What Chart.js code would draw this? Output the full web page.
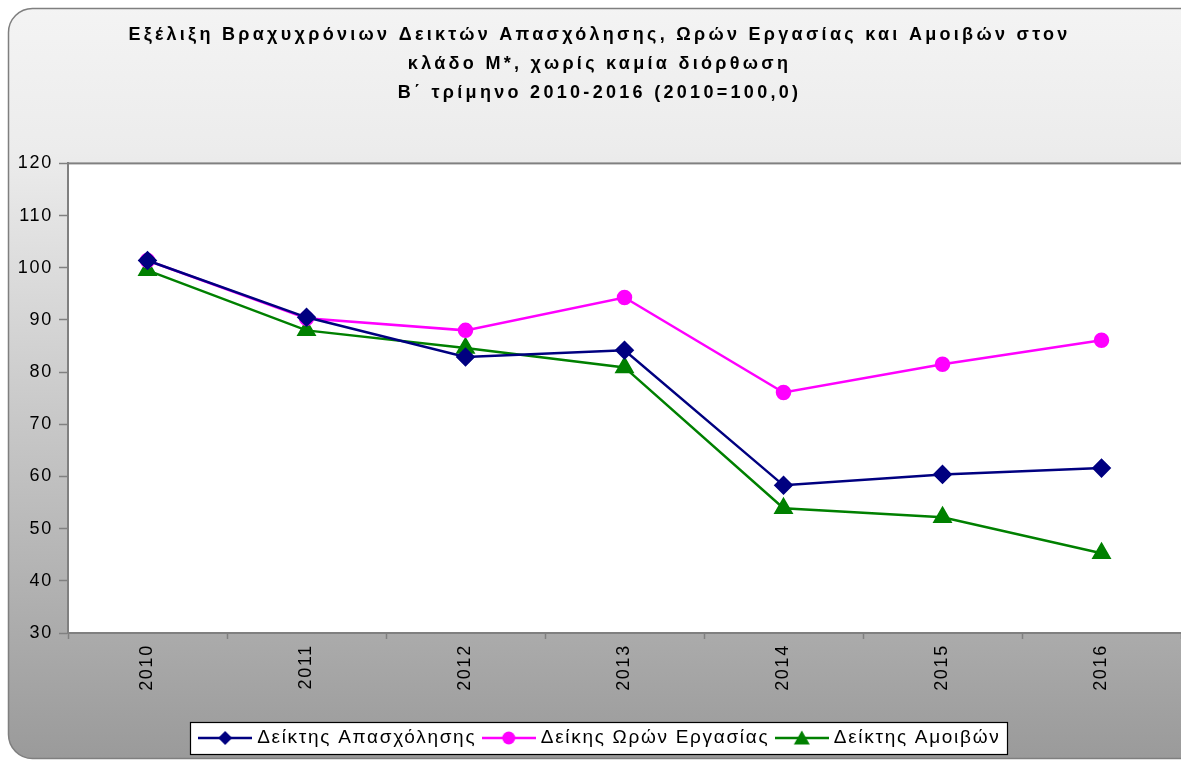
<!DOCTYPE html>
<html>
<head>
<meta charset="utf-8">
<script src="https://cdn.jsdelivr.net/npm/chart.js@4.4.0/dist/chart.umd.min.js"></script>
<style>
  html, body { margin: 0; padding: 0; background: #ffffff; }
</style>
</head>
<body>
<canvas id="indexChart" width="1181" height="760"></canvas>
<script>
// values (2010 = 100,0)
var years = ['2010', '2011', '2012', '2013', '2014', '2015', '2016'];
var employmentIndex = [101.4, 90.5, 82.9, 84.2, 58.3, 60.4, 61.6];
var hoursIndex = [101.4, 90.3, 88.0, 94.3, 76.1, 81.5, 86.1];
var wagesIndex = [99.5, 88.0, 84.6, 80.9, 53.9, 52.2, 45.3];
var seriesNames = ['Δείκτης Απασχόλησης', 'Δείκης Ωρών Εργασίας', 'Δείκτης Αμοιβών'];
var titleLines = [
  'Εξέλιξη Βραχυχρόνιων Δεικτών Απασχόλησης, Ωρών Εργασίας και Αμοιβών στον',
  'κλάδο Μ*, χωρίς καμία διόρθωση',
  'Β΄ τρίμηνο 2010-2016 (2010=100,0)'
];
var yMin = 30, yMax = 120, yStep = 10;

var FONT = "'Liberation Sans', Arial, sans-serif";
var TEXT_SPACING = '1.7px';
var TITLE_SPACING = '3.3px';
var LEGEND_SHIFT = 11;

// small canvas used as legend sample: line with marker in the middle
function legendIcon(color, style) {
  var c = document.createElement('canvas');
  c.width = 54; c.height = 18;
  var g = c.getContext('2d');
  g.strokeStyle = color;
  g.fillStyle = color;
  g.lineWidth = 2.5;
  g.beginPath();
  g.moveTo(0, 9); g.lineTo(54, 9);
  g.stroke();
  g.beginPath();
  if (style === 'diamond') {
    g.moveTo(27, 2); g.lineTo(34, 9); g.lineTo(27, 16); g.lineTo(20, 9);
  } else if (style === 'circle') {
    g.arc(27, 9, 6.5, 0, Math.PI * 2);
  } else {
    g.moveTo(27, 1.5); g.lineTo(35, 15.5); g.lineTo(19, 15.5);
  }
  g.closePath();
  g.fill();
  return c;
}
var legendIcons = [
  legendIcon('#000080', 'diamond'),
  legendIcon('#ff00ff', 'circle'),
  legendIcon('#008000', 'triangle')
];

function shiftDraw(chart, box, dx, spacing) {
  var orig = box.draw;
  box.draw = function() {
    var ctx = chart.ctx;
    ctx.save();
    if (spacing) ctx.letterSpacing = spacing;
    ctx.translate(dx, 0);
    orig.apply(this, arguments);
    ctx.restore();
  };
}

var backgroundPlugin = {
  id: 'excelBackground',
  afterInit: function(chart) {
    // title: wider letter spacing, slightly to the right; legend a bit to the right
    shiftDraw(chart, chart.titleBlock, 9, TITLE_SPACING);
    shiftDraw(chart, chart.legend, LEGEND_SHIFT, null);
  },
  beforeUpdate: function(chart) {
    chart.ctx.letterSpacing = TEXT_SPACING;
  },
  beforeDraw: function(chart) {
    var ctx = chart.ctx;
    var w = chart.width, h = chart.height;
    var a = chart.chartArea;
    ctx.save();
    ctx.letterSpacing = '0px';
    ctx.fillStyle = '#ffffff';
    ctx.fillRect(0, 0, w, h);

    // rounded frame with grey gradient
    var r = 24, x0 = 8.5, y0 = 8.5, x1 = w + 20, y1 = h - 1.5;
    ctx.beginPath();
    ctx.moveTo(x0 + r, y0);
    ctx.lineTo(x1, y0);
    ctx.lineTo(x1, y1);
    ctx.lineTo(x0 + r, y1);
    ctx.arcTo(x0, y1, x0, y1 - r, r);
    ctx.lineTo(x0, y0 + r);
    ctx.arcTo(x0, y0, x0 + r, y0, r);
    ctx.closePath();
    var grad = ctx.createLinearGradient(0, 0, 0, h);
    grad.addColorStop(0, '#f4f4f4');
    grad.addColorStop(0.2, '#ececec');
    grad.addColorStop(1, '#9a9a9a');
    ctx.fillStyle = grad;
    ctx.fill();
    ctx.strokeStyle = '#7f7f7f';
    ctx.lineWidth = 1.5;
    ctx.stroke();

    // plot area
    ctx.fillStyle = '#ffffff';
    ctx.fillRect(a.left, a.top, a.right - a.left, a.bottom - a.top);
    ctx.strokeStyle = '#808080';
    ctx.lineWidth = 2;
    ctx.strokeRect(a.left, a.top, a.right - a.left + 5, a.bottom - a.top);

    // white legend box
    var boxes = chart.legend.legendHitBoxes;
    if (boxes && boxes.length) {
      var left = Infinity, right = -Infinity;
      boxes.forEach(function(b) {
        left = Math.min(left, b.left);
        right = Math.max(right, b.left + b.width);
      });
      var top = chart.legend.top + 3.5;
      left = left - 12.5 + LEGEND_SHIFT;
      right = right + 7 + LEGEND_SHIFT;
      ctx.fillStyle = '#ffffff';
      ctx.fillRect(left, top, right - left, 32);
      ctx.strokeStyle = '#000000';
      ctx.lineWidth = 1.2;
      ctx.strokeRect(Math.round(left) + 0.5, Math.round(top) + 0.5, Math.round(right - left), 32);
    }
    ctx.restore();
    ctx.letterSpacing = TEXT_SPACING;
  }
};

var chart = new Chart(document.getElementById('indexChart').getContext('2d'), {
  type: 'line',
  data: {
    labels: years,
    datasets: [{
      label: seriesNames[0],
      data: employmentIndex,
      borderColor: '#000080',
      backgroundColor: '#000080',
      borderWidth: 2.5,
      pointStyle: 'rectRot',
      pointRadius: 8,
      pointHoverRadius: 8,
      lineTension: 0,
      fill: false
    }, {
      label: seriesNames[1],
      data: hoursIndex,
      borderColor: '#ff00ff',
      backgroundColor: '#ff00ff',
      borderWidth: 2.5,
      pointStyle: 'circle',
      pointRadius: 6.5,
      pointHoverRadius: 6.5,
      lineTension: 0,
      fill: false
    }, {
      label: seriesNames[2],
      data: wagesIndex,
      borderColor: '#008000',
      backgroundColor: '#008000',
      borderWidth: 2.5,
      pointStyle: 'triangle',
      pointRadius: 9,
      pointHoverRadius: 9,
      lineTension: 0,
      fill: false
    }]
  },
  plugins: [backgroundPlugin],
  options: {
    responsive: false,
    animation: false,
    layout: {
      autoPadding: false,
      padding: { top: 0, left: 0, right: 0, bottom: 2.5 }
    },
    plugins: {
      title: {
        display: true,
        text: titleLines,
        color: '#000000',
        font: { family: FONT, size: 18, weight: 'bold', lineHeight: 1.6 },
        padding: { top: 21, bottom: 56 }
      },
      legend: {
        display: true,
        position: 'bottom',
        labels: {
          color: '#000000',
          font: { family: FONT, size: 19 },
          usePointStyle: true,
          pointStyleWidth: 45,
          padding: 10,
          generateLabels: function(chart) {
            var items = Chart.defaults.plugins.legend.labels.generateLabels(chart);
            items.forEach(function(item, i) {
              item.pointStyle = legendIcons[i];
            });
            return items;
          }
        }
      },
      tooltip: { enabled: false }
    },
    scales: {
      x: {
        offset: true,
        grid: {
          offset: true,
          drawOnChartArea: false,
          drawTicks: true,
          tickLength: 6,
          tickWidth: 1.5,
          tickColor: '#808080'
        },
        border: { display: true, color: '#808080', width: 2 },
        ticks: {
          color: '#000000',
          font: { family: FONT, size: 18 },
          minRotation: 90,
          maxRotation: 90,
          padding: 5
        },
        afterFit: function(scale) {
          scale.height = 85.5;
          scale.paddingLeft = 0;
          scale.paddingRight = 0;
        }
      },
      y: {
        min: yMin,
        max: yMax,
        grid: {
          drawOnChartArea: false,
          drawTicks: true,
          tickLength: 9,
          tickWidth: 1.5,
          tickColor: '#808080'
        },
        border: { display: true, color: '#808080', width: 2 },
        ticks: {
          stepSize: yStep,
          color: '#000000',
          font: { family: FONT, size: 18 },
          padding: 6
        },
        afterFit: function(scale) {
          scale.width = 68;
          scale.paddingTop = 0;
          scale.paddingBottom = 0;
        }
      }
    }
  }
});
</script>
</body>
</html>
